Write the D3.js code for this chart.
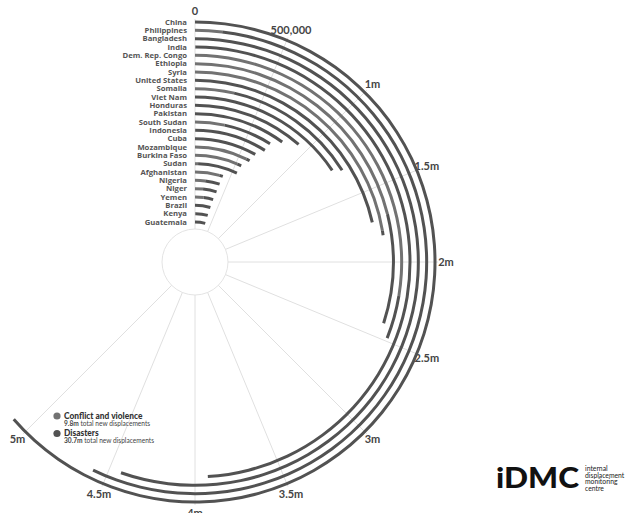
<!DOCTYPE html>
<html>
<head>
<meta charset="utf-8">
<script src="https://cdn.jsdelivr.net/npm/d3@7"></script>
<style>
  html, body { margin: 0; padding: 0; background: #fff; }
  svg { display: block; font-family: Lato, "Open Sans", sans-serif; }
</style>
</head>
<body>
<svg id="chart" width="626" height="513"></svg>
<script>
// ---- data (new displacements, millions) ----
const countries = ["China","Philippines","Bangladesh","India","Dem. Rep. Congo","Ethiopia","Syria","United States","Somalia","Viet Nam","Honduras","Pakistan","South Sudan","Indonesia","Cuba","Mozambique","Burkina Faso","Sudan","Afghanistan","Nigeria","Niger","Yemen","Brazil","Kenya","Guatemala"];
const conflict  = [0, 0.15, 0, 0.004, 2.21, 1.69, 1.79, 0, 0.29, 0, 0, 0, 0.27, 0.002, 0, 0.59, 0.52, 0.04, 0.35, 0.16, 0.14, 0.17, 0, 0.02, 0];
const disasters = [5.09, 4.43, 4.43, 3.92, 0.27, 0.71, 0.03, 1.72, 1.00, 1.25, 0.92, 0.80, 0.45, 0.71, 0.65, 0.04, 0.05, 0.52, 0.05, 0.23, 0.24, 0.19, 0.35, 0.32, 0.33];
const tickValues = [0, 0.5, 1, 1.5, 2, 2.5, 3, 3.5, 4, 4.5, 5];
const tickLabels = ["0","500,000","1m","1.5m","2m","2.5m","3m","3.5m","4m","4.5m","5m"];
const legendNames = ["Conflict and violence","Disasters"];
const legendTotals = ["9.8m","30.7m"];

const svg = d3.select("#chart");
const cx = 195, cy = 262;
const g = svg.append("g").attr("transform", `translate(${cx},${cy})`);

const angle = d3.scaleLinear().domain([0, 8]).range([0, 2 * Math.PI]);
const radius = d3.scalePoint().domain(countries).range([240, 40]);

const colConflict = "#727272", colDisaster = "#525252";

// grid
const r0 = 33, r1 = 243;
g.append("circle").attr("r", r0).attr("fill", "none").attr("stroke", "#e4e4e4").attr("stroke-width", 1);
g.selectAll("line.grid").data(tickValues).join("line")
  .attr("class", "grid")
  .attr("x1", d => r0 * Math.sin(angle(d)))
  .attr("y1", d => -r0 * Math.cos(angle(d)))
  .attr("x2", d => r1 * Math.sin(angle(d)))
  .attr("y2", d => -r1 * Math.cos(angle(d)))
  .attr("stroke", "#e0e0e0").attr("stroke-width", 1);

// tick labels
const rl = 251;
g.selectAll("text.tick").data(tickValues).join("text")
  .attr("class", "tick")
  .attr("x", d => rl * Math.sin(angle(d)))
  .attr("y", d => -rl * Math.cos(angle(d)))
  .attr("text-anchor", "middle")
  .attr("dy", "0.36em")
  .attr("font-size", 11).attr("font-weight", 700).attr("fill", "#444")
  .text((d, i) => tickLabels[i]);

// arcs
const arc = d3.arc();
const rows = countries.map((c, i) => ({ name: c, c: conflict[i], d: disasters[i], r: radius(c) }));
const segs = [];
rows.forEach(row => {
  if (row.c > 0) segs.push({ r: row.r, a0: 0, a1: row.c, col: colConflict });
  segs.push({ r: row.r, a0: row.c, a1: row.c + row.d, col: colDisaster });
});
g.selectAll("path.seg").data(segs).join("path")
  .attr("class", "seg")
  .attr("d", s => arc({ innerRadius: s.r - 1.5, outerRadius: s.r + 1.5, startAngle: angle(s.a0), endAngle: angle(s.a1) }))
  .attr("fill", s => s.col);

// country labels
g.selectAll("text.country").data(rows).join("text")
  .attr("class", "country")
  .attr("x", -8)
  .attr("y", d => -d.r)
  .attr("dy", "0.36em")
  .attr("text-anchor", "end")
  .attr("font-family", "'Open Sans', sans-serif")
  .attr("font-size", 7.7).attr("font-weight", 700).attr("fill", "#555")
  .text(d => d.name);

// legend
const leg = svg.append("g").attr("transform", "translate(57,416)");
[0, 1].forEach(i => {
  const y = i * 17.5;
  leg.append("circle").attr("cx", 0).attr("cy", y).attr("r", 3.6).attr("fill", i === 0 ? colConflict : colDisaster);
  leg.append("text").attr("x", 7).attr("y", y + 2.6).attr("font-size", 8.4).attr("font-weight", 900).attr("fill", "#333").text(legendNames[i]);
  const t = leg.append("text").attr("x", 7).attr("y", y + 9.8).attr("font-size", 6.6).attr("fill", "#444");
  t.append("tspan").attr("font-weight", 700).text(legendTotals[i]);
  t.append("tspan").text(" total new displacements");
});

// logo
const logo = svg.append("g");
logo.append("text").attr("x", 496).attr("y", 488).attr("font-size", 28).attr("font-weight", 900)
  .attr("fill", "#111").attr("textLength", 83).attr("lengthAdjust", "spacingAndGlyphs").text("iDMC");
["internal","displacement","monitoring","centre"].forEach((w, i) => {
  logo.append("text").attr("x", 585).attr("y", 471 + i * 6.7).attr("font-size", 6.8).attr("fill", "#222").text(w);
});
</script>
</body>
</html>
